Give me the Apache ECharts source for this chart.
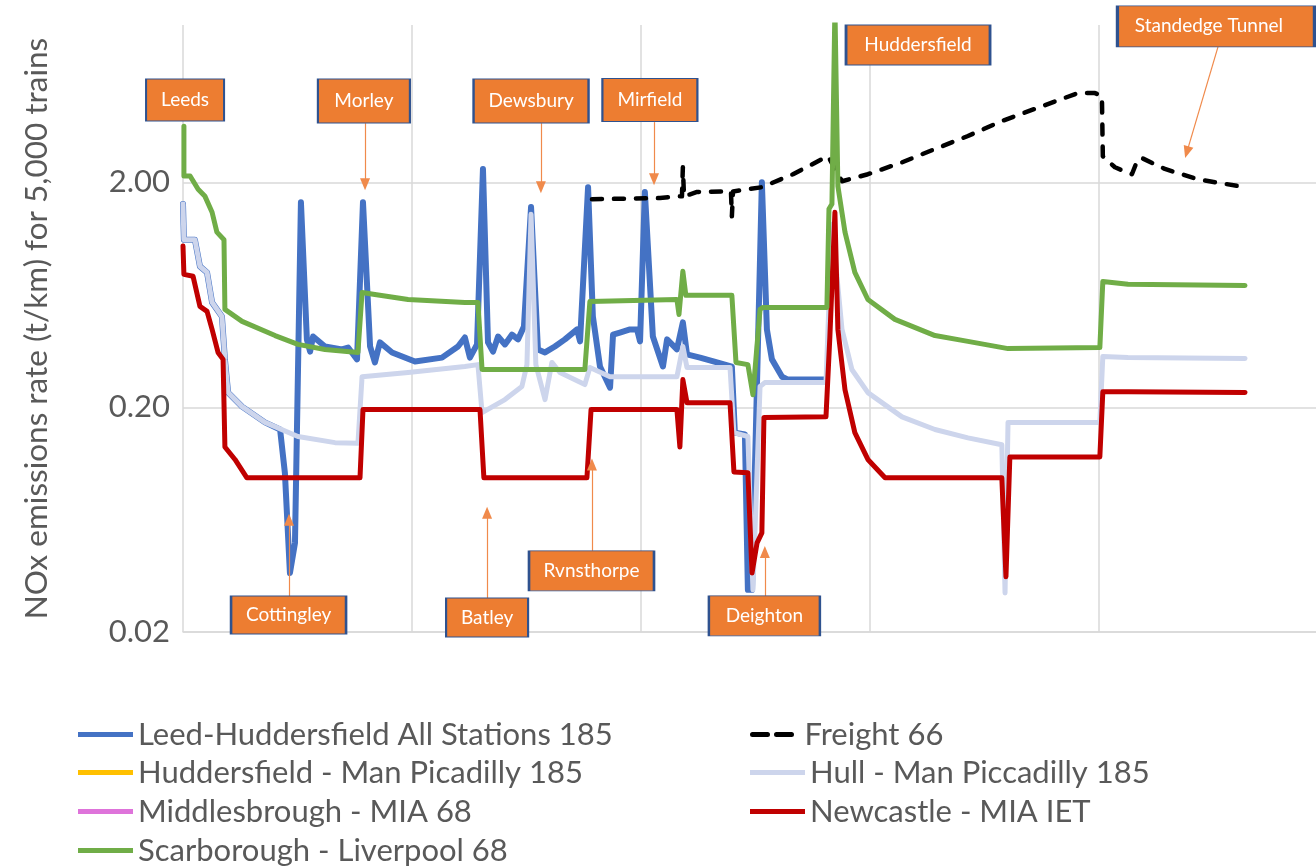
<!DOCTYPE html>
<html><head><meta charset="utf-8">
<script src="https://cdn.jsdelivr.net/npm/echarts@6/dist/echarts.min.js"></script>
<style>html,body{margin:0;padding:0;background:#fff}#c{width:1316px;height:867px}</style>
</head><body><div id="c"></div>
<script>
// ---------- data ----------
const seriesNames = [
  'Leed-Huddersfield All Stations 185',
  'Freight 66',
  'Huddersfield - Man Picadilly 185',
  'Hull - Man Piccadilly 185',
  'Middlesbrough - MIA 68',
  'Newcastle - MIA IET',
  'Scarborough - Liverpool 68'
];
const yTickValues = [0.02, 0.2, 2];

const leedsX = [0, 0.04, 0.52, 0.74, 1.05, 1.27, 1.70, 1.83, 1.97, 2.58, 3.58, 4.24, 4.45, 4.67, 4.89, 5.15, 5.41, 5.55, 5.68, 6.20, 6.94, 7.21, 7.60, 7.86, 8.17, 8.38, 8.60, 9.13, 10.13, 11.31, 12.01, 12.31, 12.53, 12.84, 13.10, 13.32, 13.54, 13.76, 14.06, 14.37, 14.63, 14.89, 15.20, 15.50, 15.81, 16.24, 16.68, 17.21, 17.34, 17.69, 17.90, 18.21, 18.65, 18.78, 19.08, 19.52, 19.83, 19.96, 20.17, 20.52, 20.96, 21.14, 21.57, 21.83, 22.01, 22.58, 23.32, 23.97, 24.10, 24.54, 24.67, 24.85, 25.28, 25.50, 25.72, 26.16, 26.42, 28.12];
const leedsY = [1.60, 1.11, 1.11, 0.845, 0.794, 0.584, 0.506, 0.326, 0.232, 0.201, 0.171, 0.159, 0.102, 0.0366, 0.0498, 1.63, 0.400, 0.353, 0.412, 0.372, 0.361, 0.368, 0.326, 1.63, 0.372, 0.316, 0.388, 0.350, 0.319, 0.332, 0.372, 0.408, 0.332, 0.380, 2.29, 0.388, 0.353, 0.412, 0.380, 0.420, 0.400, 0.457, 1.55, 0.361, 0.350, 0.372, 0.400, 0.443, 0.392, 1.90, 0.506, 0.303, 0.244, 0.420, 0.429, 0.443, 0.443, 0.392, 1.81, 0.412, 0.303, 0.400, 0.361, 0.476, 0.343, 0.332, 0.316, 0.303, 0.154, 0.151, 0.0308, 0.0308, 2.00, 0.443, 0.326, 0.273, 0.265, 0.265];

const freightX = [17.86, 20.83, 21.62, 21.79, 21.83, 21.88, 22.45, 23.76, 23.93, 23.97, 24.02, 25.28, 26.64, 27.90, 28.17, 28.78, 29.91, 31.40, 32.84, 34.28, 35.76, 37.77, 39.08, 39.83, 40.13, 40.17, 40.70, 41.44, 41.70, 41.88, 42.88, 44.32, 46.38];
const freightY = [1.68, 1.70, 1.73, 1.73, 2.33, 1.73, 1.81, 1.82, 1.82, 1.41, 1.82, 1.90, 2.17, 2.53, 2.61, 2.02, 2.17, 2.45, 2.81, 3.21, 3.74, 4.45, 4.98, 4.98, 4.83, 2.61, 2.33, 2.17, 2.53, 2.56, 2.29, 2.06, 1.90];

const hudManX = [];
const hudManY = [];

const hullX = [0, 0.04, 0.52, 0.74, 1.05, 1.27, 1.70, 1.83, 1.97, 2.58, 3.58, 5.02, 6.64, 7.64, 7.82, 9.83, 12.31, 12.88, 13.06, 14.06, 14.80, 15.02, 15.20, 15.41, 15.81, 16.11, 16.46, 17.55, 17.77, 18.65, 21.57, 21.83, 22.01, 23.89, 24.06, 24.67, 24.89, 25.20, 25.41, 28.08, 28.34, 28.78, 29.21, 29.91, 31.40, 32.84, 34.28, 35.76, 35.90, 36.03, 40.04, 40.17, 41.27, 46.38];
const hullY = [1.60, 1.11, 1.11, 0.845, 0.794, 0.584, 0.506, 0.326, 0.232, 0.201, 0.171, 0.148, 0.139, 0.138, 0.273, 0.285, 0.303, 0.309, 0.189, 0.216, 0.247, 0.309, 1.44, 0.309, 0.216, 0.316, 0.285, 0.252, 0.300, 0.273, 0.273, 0.372, 0.300, 0.300, 0.154, 0.148, 0.0308, 0.247, 0.257, 0.257, 1.30, 0.443, 0.294, 0.232, 0.181, 0.159, 0.146, 0.136, 0.0298, 0.171, 0.171, 0.336, 0.332, 0.329];

const middX = [];
const middY = [];

const newcX = [0, 0.04, 0.44, 0.74, 1.05, 1.27, 1.53, 1.75, 1.83, 2.27, 2.79, 7.73, 7.86, 12.97, 13.14, 17.64, 17.82, 21.57, 21.70, 21.83, 22.01, 23.89, 24.06, 24.67, 24.85, 25.07, 25.28, 25.37, 28.08, 28.25, 28.47, 28.60, 28.91, 29.34, 29.91, 30.66, 35.76, 35.94, 36.11, 40.04, 40.17, 41.27, 46.38];
const newcY = [1.04, 0.778, 0.763, 0.561, 0.533, 0.443, 0.350, 0.326, 0.133, 0.117, 0.0970, 0.0970, 0.195, 0.195, 0.0970, 0.0970, 0.195, 0.195, 0.133, 0.265, 0.209, 0.209, 0.103, 0.102, 0.0366, 0.0498, 0.0552, 0.180, 0.181, 0.412, 1.47, 0.443, 0.239, 0.154, 0.117, 0.0970, 0.0970, 0.0352, 0.120, 0.120, 0.234, 0.234, 0.232];

const scarX = [0.04, 0.04, 0.31, 0.66, 0.96, 1.27, 1.48, 1.79, 1.83, 2.58, 4.02, 5.02, 6.20, 7.64, 7.82, 8.38, 9.83, 12.31, 12.88, 13.06, 17.55, 17.77, 21.57, 21.66, 21.83, 21.96, 23.97, 24.15, 24.67, 24.89, 25.20, 25.33, 28.12, 28.21, 28.34, 28.47, 28.60, 28.91, 29.34, 29.91, 31.09, 32.84, 34.28, 36.03, 40.04, 40.17, 41.27, 46.38];
const scarY = [3.55, 2.13, 2.13, 1.86, 1.73, 1.47, 1.20, 1.11, 0.544, 0.481, 0.416, 0.380, 0.361, 0.350, 0.647, 0.634, 0.602, 0.584, 0.584, 0.294, 0.294, 0.590, 0.602, 0.516, 0.803, 0.628, 0.628, 0.316, 0.309, 0.227, 0.544, 0.555, 0.555, 1.52, 1.60, 12, 1.92, 1.20, 0.794, 0.602, 0.491, 0.416, 0.392, 0.364, 0.368, 0.724, 0.703, 0.695];

// station callouts (text) and anchor points in data space
const calloutNames = ['Leeds', 'Morley', 'Dewsbury', 'Mirfield', 'Huddersfield', 'Standedge Tunnel', 'Cottingley', 'Batley', 'Rvnsthorpe', 'Deighton'];
const calloutX = [0.09, 7.90, 15.20, 20.39, 32.10, 45.11, 4.61, 13.28, 17.84, 25.39];
const calloutY = [4.64, 4.59, 4.59, 4.64, 8.15, 9.86, 0.0238, 0.0232, 0.0374, 0.0236];
// arrows: from / to points in data space
const arrowFromX = [7.95, 15.63, 20.57, 45.20, 4.63, 13.28, 17.86, 25.41];
const arrowFromY = [3.66, 3.66, 3.70, 7.99, 0.0289, 0.0283, 0.0459, 0.0289];
const arrowToX   = [7.95, 15.63, 20.57, 43.84, 4.63, 13.28, 17.86, 25.41];
const arrowToY   = [1.96, 1.90, 2.06, 2.72, 0.0631, 0.0678, 0.111, 0.0454];

// ---------- styling ----------
const FONT = 'Lato, "Open Sans", sans-serif';
const TXT = '#595959';
const boxSizes = [[78, 42], [92, 44], [115, 44], [95, 43], [144, 40], [197, 41], [115, 38], [82, 39], [125, 40], [111, 40]];
const DASH_ICON = 'path://M2.5,0h15a2.5,2.5 0 0 1 0,5h-15a2.5,2.5 0 0 1 0,-5z M26.5,0h15a2.5,2.5 0 0 1 0,5h-15a2.5,2.5 0 0 1 0,-5z';

const pair = (xs, ys) => xs.map((x, i) => [x, ys[i]]);
function line(name, xs, ys, color, width, dash) {
  return {
    type: 'line', name, data: pair(xs, ys), symbol: 'none', showSymbol: false,
    color, animation: false,
    lineStyle: { color, width, type: dash || 'solid', cap: 'round', join: 'round' }
  };
}

const series = [
  line(seriesNames[0], leedsX, leedsY, '#4472C4', 6),
  line(seriesNames[1], freightX, freightY, '#000000', 4.5, [10, 12]),
  line(seriesNames[2], hudManX, hudManY, '#FFC000', 5),
  line(seriesNames[3], hullX, hullY, '#CDD5EC', 5),
  line(seriesNames[4], middX, middY, '#DE73DA', 5),
  line(seriesNames[5], newcX, newcY, '#C00000', 5),
  line(seriesNames[6], scarX, scarY, '#70AD47', 5),
  {
    type: 'scatter', name: 'callouts', clip: false, z: 10, silent: true, animation: false,
    symbol: 'rect',
    data: calloutNames.map((n, i) => ({
      name: n, value: [calloutX[i], calloutY[i]], symbolSize: boxSizes[i],
      label: n === 'Standedge Tunnel' ? { offset: [-7, -1] } : undefined
    })),
    itemStyle: { color: '#ED7D31', borderColor: '#2F528F', borderWidth: 1.5, opacity: 1 },
    label: { show: true, position: 'inside', formatter: '{b}', color: '#fff', fontSize: 19, fontFamily: FONT },
    markLine: {
      silent: true, animation: false, symbol: ['none', 'triangle'], symbolSize: [10, 12],
      lineStyle: { color: '#F08A4B', width: 1.2, type: 'solid' },
      label: { show: false },
      data: arrowFromX.map((x, i) => [{ coord: [x, arrowFromY[i]] }, { coord: [arrowToX[i], arrowToY[i]] }])
    }
  }
];

// one legend per entry: two columns, four rows
const legendCols = [78, 750, 78, 750, 78, 750, 78];
const legendTops = [719, 719, 757, 757, 796, 796, 835];
const legends = seriesNames.map((n, i) => ({
  orient: 'vertical', left: legendCols[i], top: legendTops[i],
  itemWidth: 55, itemHeight: 5, padding: 0, icon: 'rect',
  textStyle: { fontSize: 31, color: TXT, fontFamily: FONT },
  data: [i === 1 ? { name: n, icon: DASH_ICON } : n]
}));

const chart = echarts.init(document.getElementById('c'), null, { renderer: 'canvas' });
chart.setOption({
  animation: false,
  backgroundColor: '#fff',
  grid: { left: 183, top: 25, right: 0, height: 607, outerBoundsMode: 'none', containLabel: false },
  xAxis: {
    type: 'value', min: 0, max: 49.48, interval: 10,
    axisLine: { show: true, lineStyle: { color: '#d9d9d9', width: 1.5 } },
    axisTick: { show: false }, axisLabel: { show: false },
    splitLine: { show: true, showMaxLine: false, lineStyle: { color: '#d9d9d9', width: 1.5 } }
  },
  yAxis: {
    type: 'log', logBase: 10, min: yTickValues[0], max: 10, interval: 1,
    axisLine: { show: false }, axisTick: { show: false },
    splitLine: { show: true, showMaxLine: false, lineStyle: { color: '#d9d9d9', width: 1.5 } },
    axisLabel: {
      showMaxLabel: false, fontSize: 31, color: TXT, fontFamily: FONT, margin: 13,
      formatter: v => v > 5 ? '' : v.toFixed(2)
    },
    name: 'NOx emissions rate (t/km) for 5,000 trains', nameLocation: 'middle', nameGap: 130,
    nameTextStyle: { fontSize: 31.5, color: TXT, fontFamily: FONT }
  },
  legend: legends,
  series
});
</script>
</body></html>
